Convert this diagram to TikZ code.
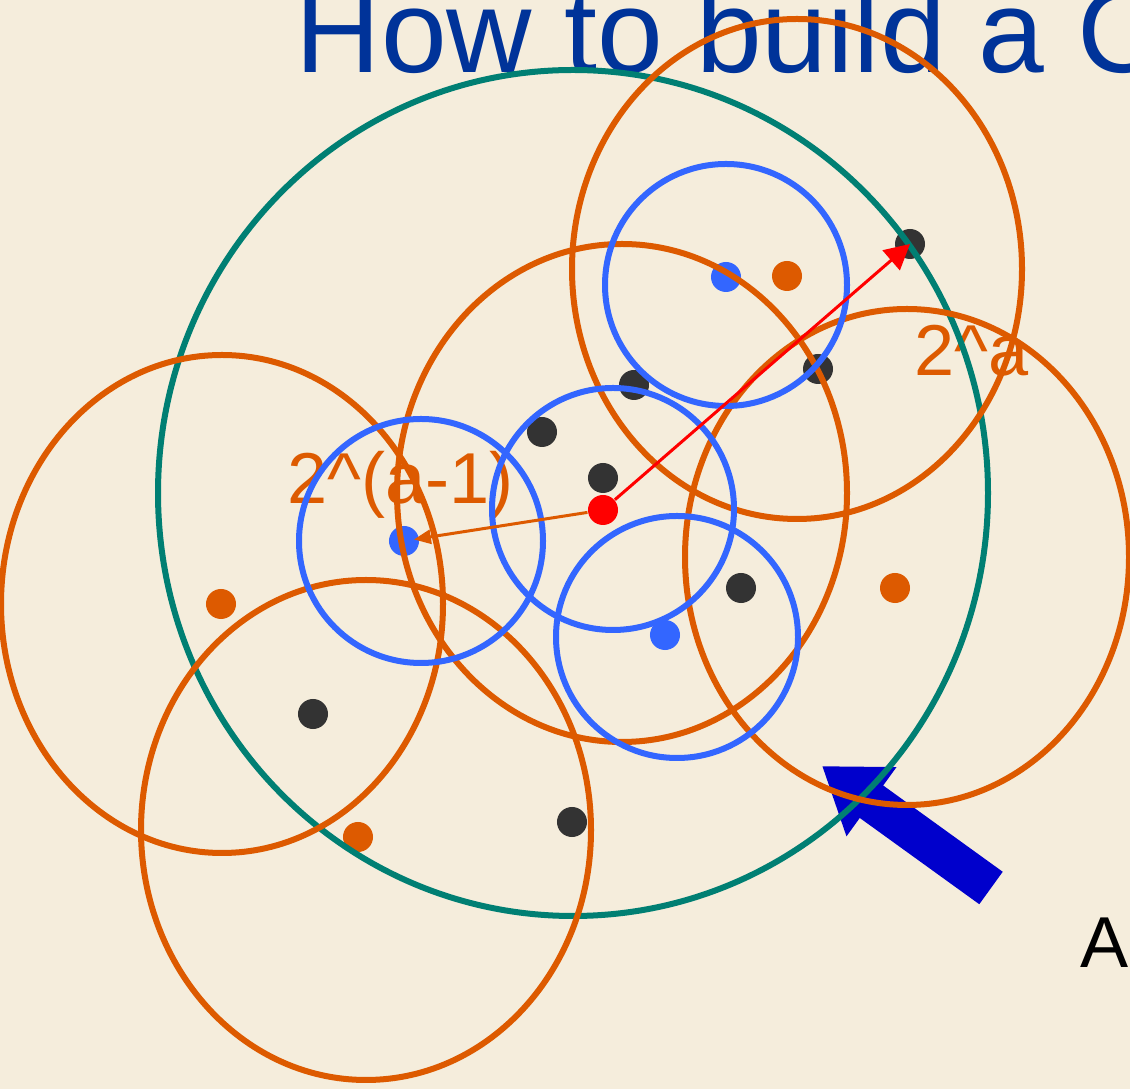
\documentclass[tikz,border=0pt]{standalone}
\usepackage{fontspec}
\setmainfont{Liberation Sans}
\usetikzlibrary{arrows.meta}
\definecolor{paper}{HTML}{F5EDDC}
\definecolor{titleblue}{HTML}{003399}
\definecolor{ringorange}{HTML}{DD5A00}
\definecolor{ringteal}{HTML}{007F73}
\definecolor{ringblue}{HTML}{3366FF}
\definecolor{dotgray}{HTML}{333333}
\definecolor{bigblue}{HTML}{0000CC}

\begin{document}
\begin{tikzpicture}[x=0.01cm, y=-0.01cm,
    dot/.style={circle, fill, inner sep=0pt, minimum size=0.3cm},
    lbl/.style={anchor=base west, inner sep=0pt, font=\fontsize{20.5}{24}\selectfont},
    ring/.style={line width=0.06cm},
    arrow/.style={line width=0.03cm}
]
\useasboundingbox (0,0) rectangle (1130,1089);
\clip (0,0) rectangle (1130,1089);
\fill[paper] (0,0) rectangle (1130,1089);

\node[lbl, titleblue, font=\fontsize{33.6}{40}\selectfont] (title) at (295,73) {How to build a C};
\node[lbl, ringorange] (halfdist) at (287,504) {2\^{}(a-1)};
\node[lbl, ringorange] (fulldist) at (914,376) {2\^{}a};
\node[lbl, black] (alabel) at (1080,968) {A};

\node[dot, red] (src) at (603,510) {};
\node[dot, dotgray] (far) at (910,244) {};
\node[dot, dotgray] (b1) at (818,369) {};
\node[dot, dotgray] (b2) at (634,385) {};
\node[dot, dotgray] (b3) at (542,432) {};
\node[dot, dotgray] (b4) at (603,478) {};
\node[dot, dotgray] (b5) at (741,588) {};
\node[dot, dotgray] (b6) at (313,714) {};
\node[dot, dotgray] (b7) at (572,822) {};
\node[dot, ringblue] (near) at (404,541) {};
\node[dot, ringblue] (c1) at (726,277) {};
\node[dot, ringblue] (c2) at (665,635) {};
\node[dot, ringorange] (o1) at (787,276) {};
\node[dot, ringorange] (o2) at (895,588) {};
\node[dot, ringorange] (o3) at (221,604) {};
\node[dot, ringorange] (o4) at (358,837) {};

\coordinate (tail) at (991,888);
\coordinate (tip) at (822,766);
\draw[bigblue, line width=0.4cm, -{Triangle[length=0.61cm,width=0.81cm]}] (tail) -- (tip);

\draw[ring, ringteal] (573,493) ellipse [x radius=415, y radius=423];
\draw[ring, ringorange] (797,269) ellipse [x radius=225, y radius=250];
\draw[ring, ringorange] (622,493) ellipse [x radius=225, y radius=249];
\draw[ring, ringorange] (222,604) ellipse [x radius=221, y radius=249];
\draw[ring, ringorange] (366,830) ellipse [x radius=225, y radius=250];
\draw[ring, ringorange] (907,557) ellipse [x radius=222, y radius=248];

\draw[ring, ringblue] (726,285) circle [radius=121];
\draw[ring, ringblue] (421,541) circle [radius=122];
\draw[ring, ringblue] (613,509) circle [radius=121];
\draw[ring, ringblue] (677,637) circle [radius=121];

\draw[arrow, red, -{Triangle[length=0.25cm,width=0.26cm]}] (src) -- (far.center);
\draw[arrow, ringorange, -{Triangle[length=0.17cm,width=0.14cm]}, shorten >=0.1cm] (src) -- (near.center);
\end{tikzpicture}
\end{document}
